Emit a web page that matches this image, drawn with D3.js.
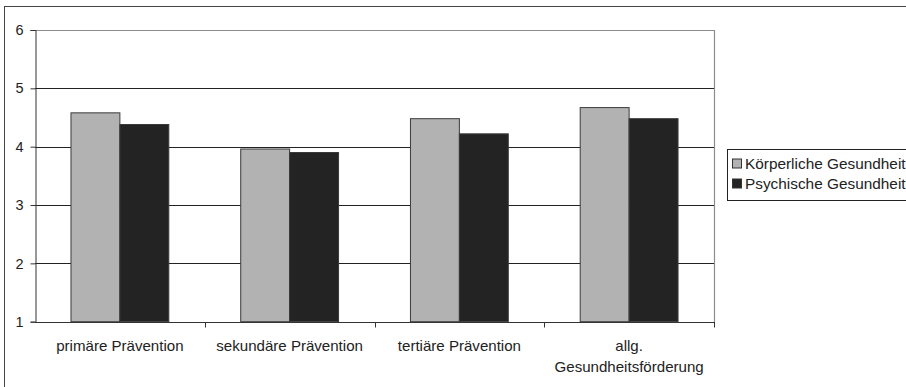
<!DOCTYPE html>
<html>
<head>
<meta charset="utf-8">
<script src="https://cdn.jsdelivr.net/npm/d3@7"></script>
<style>
  body { margin: 0; background: #fff; overflow: hidden; }
  svg { display: block; font-family: "Liberation Sans", Arial, sans-serif; }
</style>
</head>
<body>
<svg id="chart"></svg>
<script>
// categories and series
let categories = ["primäre Prävention", "sekundäre Prävention", "tertiäre Prävention", "allg. Gesundheitsförderung"];
let seriesNames = ["Körperliche Gesundheit", "Psychische Gesundheit"];
let koerperlich = [4.58, 3.96, 4.48, 4.67];
let psychisch = [4.38, 3.90, 4.22, 4.48];
let yTicks = [1, 2, 3, 4, 5, 6];

function drawChart() {
    let w = 906, h = 387;
    let svg = d3.select("#chart").attr("width", w).attr("height", h);

    let plot = { left: 35, right: 714, top: 30, bottom: 321.7 };
    let colors = ["#b2b2b2", "#232323"];

    // outer frame
    svg.append("rect")
        .attr("x", 4.5).attr("y", 6.5)
        .attr("width", 910).attr("height", 400)
        .attr("fill", "none").attr("stroke", "#444").attr("stroke-width", 1);

    let x = d3.scaleBand()
        .domain(categories)
        .range([plot.left, plot.right])
        .paddingInner(0.4237).paddingOuter(0.2119);
    // one band per category, bars share the inner band
    let xCat = d3.scaleBand().domain(categories).range([plot.left, plot.right]);
    let xSub = d3.scaleBand().domain([0, 1]).range([0, x.bandwidth()]);

    let y = d3.scaleLinear().domain([1, 6]).range([plot.bottom, plot.top]);

    // gridlines
    svg.append("g").selectAll("line")
        .data(yTicks.filter(d => d > 1 && d < 6))
        .enter().append("line")
        .attr("x1", plot.left).attr("x2", plot.right)
        .attr("y1", d => Math.round(y(d)) + 0.5).attr("y2", d => Math.round(y(d)) + 0.5)
        .attr("stroke", "#222").attr("stroke-width", 1);

    // plot area border (top, right)
    svg.append("path")
        .attr("d", `M${plot.left},${Math.round(plot.top) + 0.5}H${plot.right + 0.5}V${Math.round(plot.bottom)}`)
        .attr("fill", "none").attr("stroke", "#8c8c8c").attr("stroke-width", 1.2);

    // bars
    let data = [koerperlich, psychisch];
    let groups = svg.append("g").selectAll("g")
        .data(categories)
        .enter().append("g")
        .attr("transform", d => `translate(${x(d)},0)`);

    groups.selectAll("rect")
        .data((d, i) => data.map((s, j) => ({ j: j, v: s[i] })))
        .enter().append("rect")
        .attr("x", d => xSub(d.j))
        .attr("y", d => y(d.v))
        .attr("width", xSub.bandwidth())
        .attr("height", d => y(1) - y(d.v))
        .attr("fill", d => colors[d.j])
        .attr("stroke", "#3a3a3a").attr("stroke-width", 1);

    // y axis
    let yAxis = d3.axisLeft(y).tickValues(yTicks).tickSize(5).tickPadding(7).tickFormat(d3.format("d"));
    let gy = svg.append("g").attr("transform", `translate(${plot.left + 0.5},0)`).call(yAxis);
    gy.select(".domain").attr("stroke", "#333");
    gy.selectAll(".tick line").attr("stroke", "#333");
    gy.selectAll(".tick text").attr("font-size", 14.5).attr("fill", "#222");

    // x axis with ticks at category boundaries
    let gx = svg.append("g").attr("transform", `translate(0,${Math.round(plot.bottom) + 0.5})`);
    gx.append("line").attr("x1", plot.left).attr("x2", plot.right + 1)
        .attr("stroke", "#333");
    gx.selectAll(".bt")
        .data(categories)
        .enter().append("line")
        .attr("x1", d => Math.round(xCat(d) + xCat.bandwidth()) + 0.5)
        .attr("x2", d => Math.round(xCat(d) + xCat.bandwidth()) + 0.5)
        .attr("y1", 0).attr("y2", 5)
        .attr("stroke", "#333");

    let labelLines = [["primäre Prävention"], ["sekundäre Prävention"], ["tertiäre Prävention"], ["allg.", "Gesundheitsförderung"]];
    gx.selectAll("text.cat")
        .data(categories)
        .enter().append("text")
        .attr("class", "cat")
        .attr("transform", d => `translate(${xCat(d) + xCat.bandwidth() / 2},0) scale(1.04,1)`)
        .attr("text-anchor", "middle")
        .attr("font-size", 14.5).attr("fill", "#222")
        .each(function(d, i) {
            d3.select(this).selectAll("tspan")
                .data(labelLines[i])
                .enter().append("tspan")
                .attr("x", 0)
                .attr("y", (t, k) => 29 + k * 21)
                .text(t => t);
        });

    // legend (runs off the right edge, as in the original)
    let lg = svg.append("g").attr("transform", "translate(727,149)");
    lg.append("rect").attr("x", 0.5).attr("y", 0.5).attr("width", 240).attr("height", 51)
        .attr("fill", "#fff").attr("stroke", "#222");
    let items = lg.selectAll("g.item")
        .data(seriesNames)
        .enter().append("g")
        .attr("class", "item")
        .attr("transform", (d, i) => `translate(0,${14.5 + i * 20})`);
    items.append("rect")
        .attr("x", 5.5).attr("y", -4.5).attr("width", 9).attr("height", 9)
        .attr("fill", (d, i) => colors[i]).attr("stroke", "#333");
    items.append("text")
        .attr("transform", "translate(18,5.5) scale(1.06,1)")
        .attr("font-size", 14.5).attr("fill", "#222")
        .text(d => d);
}

window.onload = function() {
    drawChart();
};
</script>
</body>
</html>
